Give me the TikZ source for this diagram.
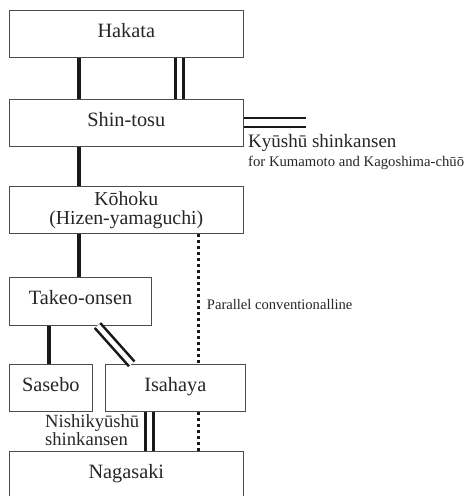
\documentclass[tikz,border=0pt]{standalone}
\usepackage{fontspec}
\setmainfont{Liberation Serif}
\begin{document}
\begin{tikzpicture}[x=1pt,y=-1pt,
  box/.style={draw=black!70, line width=0.9pt, fill=white, inner sep=0pt, text height=0.68em, text depth=0pt,
     font=\fontsize{20.3}{20}\selectfont, text=black!85},
  thickline/.style={line width=4.6pt, black!90},
  dbl/.style={line width=2.8pt, double=white, double distance=4.8pt, draw=black!90},
  dotline/.style={line width=3pt, black!90, dash pattern=on 3pt off 3pt},
  lbl/.style={inner sep=0pt, text=black!85}]
\useasboundingbox (0,0) rectangle (466,496);
\node[box, minimum width=234pt, minimum height=47.3pt] (hakata) at (126.3,33.7) {Hakata};
\node[box, minimum width=234pt, minimum height=47.3pt] (shintosu) at (126.3,123) {Shin-tosu};
\node[box, minimum width=234pt, minimum height=47.3pt] (kohoku) at (126.3,209.7) {};
\node[lbl, anchor=base, font=\fontsize{19.8}{20}\selectfont] (kohokut) at (126.3,205.6) {Kōhoku};
\node[lbl, anchor=base, font=\fontsize{19.8}{20}\selectfont] (kohokut2) at (126.3,224.2) {(Hizen-yamaguchi)};
\node[box, minimum width=142.4pt, minimum height=47.7pt] (takeo) at (80.5,301.2) {Takeo-onsen};
\node[box, minimum width=83pt, minimum height=47.4pt] (sasebo) at (50.8,388) {Sasebo};
\node[box, minimum width=140pt, minimum height=47.4pt] (isahaya) at (175.3,388) {Isahaya};
\node[box, minimum width=234pt, minimum height=47.3pt] (nagasaki) at (126.3,475.3) {Nagasaki};
\coordinate (kyushu) at (305.7,122.5);
% connectors
\draw[thickline] (hakata.south -| 79,0) -- (shintosu.north -| 79,0);
\draw[dbl] (hakata.south -| 179.5,0) -- (shintosu.north -| 179.5,0);
\draw[dbl, line width=2.4pt, double distance=6.8pt] (shintosu.east |- kyushu) -- (kyushu);
\draw[thickline] (shintosu.south -| 79,0) -- (kohoku.north -| 79,0);
\draw[thickline] (kohoku.south -| 79,0) -- (takeo.north -| 79,0);
\draw[thickline] (takeo.south -| 49,0) -- (sasebo.north -| 49,0);
\draw[dbl, line width=2.6pt, double distance=4.6pt] (takeo.south -| 97.5,0) -- (isahaya.north -| 131.7,0);
\draw[dbl] (isahaya.south -| 149.3,0) -- (nagasaki.north -| 149.3,0);
\draw[dotline] (kohoku.south -| 198.5,0) -- (isahaya.north -| 198.5,0);
\draw[dotline] (isahaya.south -| 198.5,0) -- (nagasaki.north -| 198.5,0);
% labels
\node[lbl, anchor=base west, font=\fontsize{19}{19}\selectfont] (kyl) at (248,147.7) {Kyūshū shinkansen};
\node[lbl, anchor=base west, font=\fontsize{14.7}{15}\selectfont] (kyl2) at (248,166.7) {for Kumamoto and Kagoshima-chūō};
\node[lbl, anchor=base west, font=\fontsize{14.6}{15}\selectfont] (par) at (206.7,309.3) {Parallel conventionalline};
\node[lbl, anchor=base west, font=\fontsize{18.6}{19}\selectfont] (nishi) at (45,427.5) {Nishikyūshū};
\node[lbl, anchor=base west, font=\fontsize{18.6}{19}\selectfont] (nishi2) at (45,445) {shinkansen};
\end{tikzpicture}
\end{document}
